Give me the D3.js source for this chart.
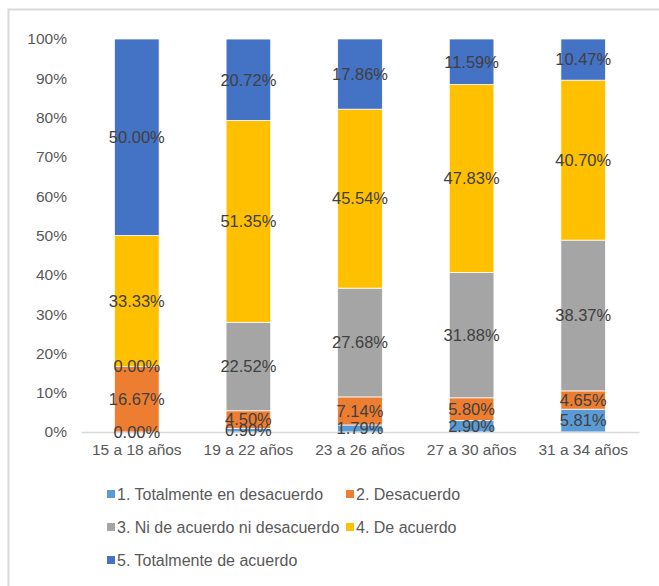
<!DOCTYPE html>
<html>
<head>
<meta charset="utf-8">
<script src="https://cdn.jsdelivr.net/npm/d3@7"></script>
<style>
  html, body { margin: 0; padding: 0; background: #fff; }
  svg { display: block; font-family: "Liberation Sans", Arial, sans-serif; }
</style>
</head>
<body>
<svg id="chart" width="659" height="586"></svg>
<script>
// Age groups on the x axis
const categories = ["15 a 18 años", "19 a 22 años", "23 a 26 años", "27 a 30 años", "31 a 34 años"];

// Response shares (%) per age group, one array per answer level
const totalDesacuerdo = [0.00, 0.90, 1.79, 2.90, 5.81];
const desacuerdo      = [16.67, 4.50, 7.14, 5.80, 4.65];
const neutral         = [0.00, 22.52, 27.68, 31.88, 38.37];
const deAcuerdo       = [33.33, 51.35, 45.54, 47.83, 40.70];
const totalAcuerdo    = [50.00, 20.72, 17.86, 11.59, 10.47];

const seriesNames = [
  "1. Totalmente en desacuerdo",
  "2. Desacuerdo",
  "3. Ni de acuerdo ni desacuerdo",
  "4. De acuerdo",
  "5. Totalmente de acuerdo"
];
const seriesValues = [totalDesacuerdo, desacuerdo, neutral, deAcuerdo, totalAcuerdo];
const colors = ["#5B9BD5", "#ED7D31", "#A5A5A5", "#FFC000", "#4472C4"];

const yTicks = [0, 10, 20, 30, 40, 50, 60, 70, 80, 90, 100];

const svg = d3.select("#chart");

// Chart frame
svg.append("rect")
  .attr("x", 8.5).attr("y", 9.5)
  .attr("width", 700).attr("height", 700)
  .attr("fill", "#fff")
  .attr("stroke", "#d9d9d9")
  .attr("stroke-width", 2);

const plot = { left: 81, right: 639, top: 39, bottom: 432 };

const x = d3.scaleBand()
  .domain(categories)
  .range([plot.left, plot.right])
  .paddingInner(0.6)
  .paddingOuter(0.3);

const y = d3.scaleLinear()
  .domain([0, 100])
  .range([plot.bottom, plot.top]);

// Stack layout
const rows = categories.map((c, i) => {
  const r = { cat: c };
  seriesNames.forEach((s, k) => { r[s] = seriesValues[k][i]; });
  return r;
});
const stacked = d3.stack().keys(seriesNames)(rows);

// Y axis labels
const yAxis = d3.axisLeft(y)
  .tickValues(yTicks)
  .tickFormat(d => d + "%")
  .tickSize(0)
  .tickPadding(14);
const ya = svg.append("g")
  .attr("transform", `translate(${plot.left},0)`)
  .call(yAxis);
ya.select(".domain").remove();
ya.selectAll("text")
  .attr("fill", "#595959")
  .style("font-size", "15.5px")
  .style("font-family", "Liberation Sans, Arial, sans-serif");

// Bars
const layers = svg.append("g").selectAll("g")
  .data(stacked)
  .join("g")
  .attr("fill", (d, i) => colors[i]);

layers.selectAll("rect")
  .data(d => d)
  .join("rect")
  .attr("x", d => x(d.data.cat))
  .attr("width", x.bandwidth())
  .attr("y", d => y(d[1]))
  .attr("height", d => Math.max(0, y(d[0]) - y(d[1])))
  .attr("stroke", "#fff")
  .attr("stroke-width", 0.75);

// X axis
const xAxis = d3.axisBottom(x).tickSize(0).tickPadding(12);
const xa = svg.append("g")
  .attr("transform", `translate(0,${plot.bottom})`)
  .call(xAxis);
xa.select(".domain").attr("stroke", "#d9d9d9").attr("stroke-width", 1.5);
xa.selectAll("text")
  .attr("fill", "#595959")
  .style("font-size", "15.5px")
  .style("font-family", "Liberation Sans, Arial, sans-serif");

// Value labels
const labels = svg.append("g");
stacked.forEach((layer) => {
  layer.forEach(d => {
    labels.append("text")
      .attr("x", x(d.data.cat) + x.bandwidth() / 2)
      .attr("y", y((d[0] + d[1]) / 2))
      .attr("dy", "0.35em")
      .attr("text-anchor", "middle")
      .attr("fill", "#404040")
      .style("font-size", "16.5px")
      .text((d[1] - d[0]).toFixed(2) + "%");
  });
});

// Legend
const legendItems = [
  { name: seriesNames[0], color: colors[0], lx: 107, ly: 494 },
  { name: seriesNames[1], color: colors[1], lx: 346, ly: 494 },
  { name: seriesNames[2], color: colors[2], lx: 107, ly: 527 },
  { name: seriesNames[3], color: colors[3], lx: 346, ly: 527 },
  { name: seriesNames[4], color: colors[4], lx: 107, ly: 560 }
];
const lg = svg.append("g").selectAll("g")
  .data(legendItems)
  .join("g")
  .attr("transform", d => `translate(${d.lx},${d.ly})`);
lg.append("rect")
  .attr("x", 0).attr("y", -4)
  .attr("width", 8).attr("height", 8)
  .attr("fill", d => d.color);
lg.append("text")
  .attr("x", 10)
  .attr("dy", "0.35em")
  .attr("fill", "#595959")
  .style("font-size", "16px")
  .text(d => d.name);
</script>
</body>
</html>
